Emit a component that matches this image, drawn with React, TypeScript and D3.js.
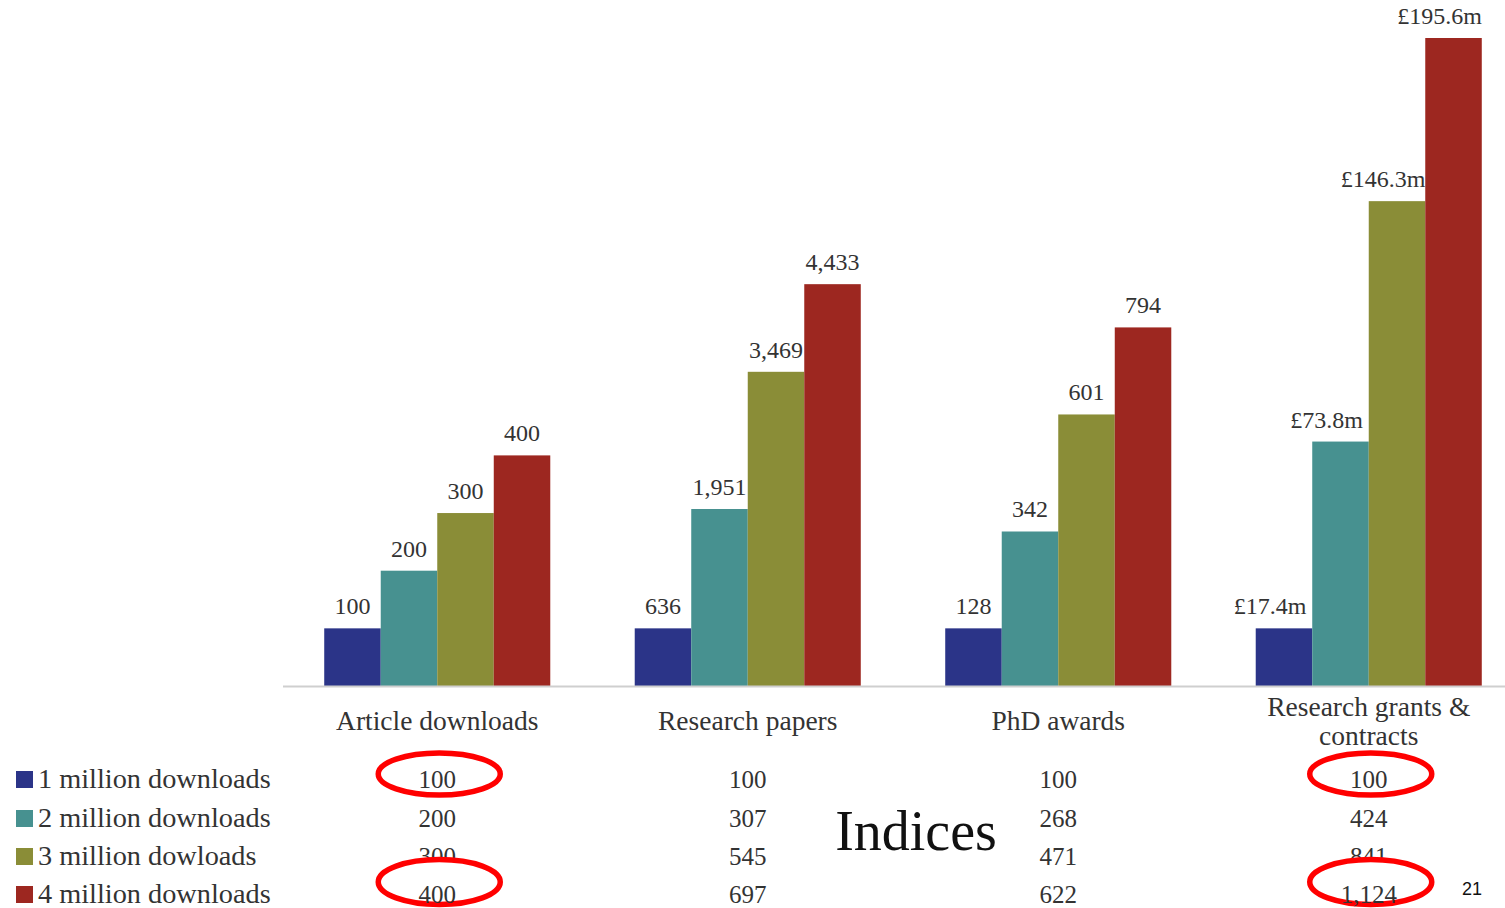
import React from "react";
import * as d3 from "d3";

// Categories shown on the x axis (multi-line labels listed separately)
const categories = ["Article downloads", "Research papers", "PhD awards", "Research grants & contracts"];
const categoryLines = [["Article downloads"], ["Research papers"], ["PhD awards"], ["Research grants &", "contracts"]];

// Series (download scenarios)
const seriesNames = ["1 million downloads", "2 million downloads", "3 million dowloads", "4 million downloads"];
const seriesColors = ["#2b3488", "#479190", "#8a8d37", "#9d2720"];

// Index values (1 million downloads = 100) — bar heights
const index1m = [100, 100, 100, 100];
const index2m = [200, 307, 268, 424];
const index3m = [300, 545, 471, 841];
const index4m = [400, 697, 622, 1124];

// Absolute values printed above the bars
const label1m = ["100", "636", "128", "£17.4m"];
const label2m = ["200", "1,951", "342", "£73.8m"];
const label3m = ["300", "3,469", "601", "£146.3m"];
const label4m = ["400", "4,433", "794", "£195.6m"];

// Highlighted index cells: [series row, category column]
const highlights: [number, number][] = [[0, 0], [3, 0], [0, 3], [3, 3]];

const indices = [index1m, index2m, index3m, index4m];
const valueLabels = [label1m, label2m, label3m, label4m];

const W = 1505;
const H = 908;
const baseY = 686;
const serif = "'Liberation Serif', 'Times New Roman', serif";
const textColor = "#333";

export default function App() {
  const x = d3.scaleBand<string>().domain(categories).range([282, 1524]).paddingInner(0.272).paddingOuter(0.136);
  const xs = d3.scaleBand<string>().domain(seriesNames).range([0, x.bandwidth()]).padding(0);
  const y = d3.scaleLinear().domain([0, 1124]).range([baseY, 38]);
  const fmt = d3.format(",");

  const rowBaselines = [788, 827, 865, 903];
  // vertical centre of a highlight ring, relative to its row baseline
  const ringOffset = [-14, -14, -14, -21];

  return (
    <svg
      width={W}
      height={H}
      viewBox={`0 0 ${W} ${H}`}
      style={{ position: "absolute", left: 0, top: 0, background: "#fff" }}
    >
      <rect x={0} y={0} width={W} height={H} fill="#fff" />

      {/* bars */}
      {categories.map((c, ci) => (
        <g key={c} transform={`translate(${x(c)},0)`}>
          {seriesNames.map((s, si) => {
            const v = indices[si][ci];
            const lbl = valueLabels[si][ci];
            const bx = xs(s)!;
            const top = y(v);
            const shift = lbl.startsWith("£") ? -14 : 0;
            return (
              <g key={s}>
                <rect x={bx} y={top} width={xs.bandwidth()} height={baseY - top} fill={seriesColors[si]} />
                <text
                  x={bx + xs.bandwidth() / 2 + shift}
                  y={top - 14}
                  textAnchor="middle"
                  fontFamily={serif}
                  fontSize={24}
                  fill={textColor}
                >
                  {lbl}
                </text>
              </g>
            );
          })}
        </g>
      ))}

      {/* baseline */}
      <line x1={283} x2={W} y1={baseY + 0.5} y2={baseY + 0.5} stroke="#cfcfcf" strokeWidth={2} />

      {/* category labels */}
      {categories.map((c, ci) => {
        const lines = categoryLines[ci];
        const cx = x(c)! + x.bandwidth() / 2;
        const startY = lines.length === 1 ? 730 : 716;
        return (
          <text key={c} x={cx} textAnchor="middle" fontFamily={serif} fontSize={27.5} fill={textColor}>
            {lines.map((ln, li) => (
              <tspan key={li} x={cx} y={startY + li * 29}>
                {ln}
              </tspan>
            ))}
          </text>
        );
      })}

      {/* legend + index table, row by row so each highlight sits over the row above */}
      {seriesNames.map((s, si) => (
        <g key={s}>
          {highlights
            .filter(([r]) => r === si)
            .map(([r, col]) => {
              const cx = x(categories[col])! + x.bandwidth() / 2 + 2;
              return (
                <ellipse
                  key={`${r}-${col}`}
                  cx={cx}
                  cy={rowBaselines[r] + ringOffset[r]}
                  rx={61}
                  ry={r === 3 ? 22.5 : 21}
                  fill="#fff"
                  stroke="#ff0000"
                  strokeWidth={5.5}
                />
              );
            })}
          <rect x={16} y={rowBaselines[si] - 17} width={17} height={17} fill={seriesColors[si]} />
          <text x={38} y={rowBaselines[si]} fontFamily={serif} fontSize={28.3} fill={textColor}>
            {s}
          </text>
          {categories.map((c, ci) => (
            <text
              key={c}
              x={x(c)! + x.bandwidth() / 2}
              y={rowBaselines[si]}
              textAnchor="middle"
              fontFamily={serif}
              fontSize={25}
              fill={textColor}
            >
              {fmt(indices[si][ci])}
            </text>
          ))}
        </g>
      ))}

      <text x={916} y={850} textAnchor="middle" fontFamily={serif} fontSize={56} fill="#111">
        Indices
      </text>

      <text x={1472} y={895} textAnchor="middle" fontFamily="'Liberation Sans', Arial, sans-serif" fontSize={18} fill="#111">
        21
      </text>
    </svg>
  );
}
